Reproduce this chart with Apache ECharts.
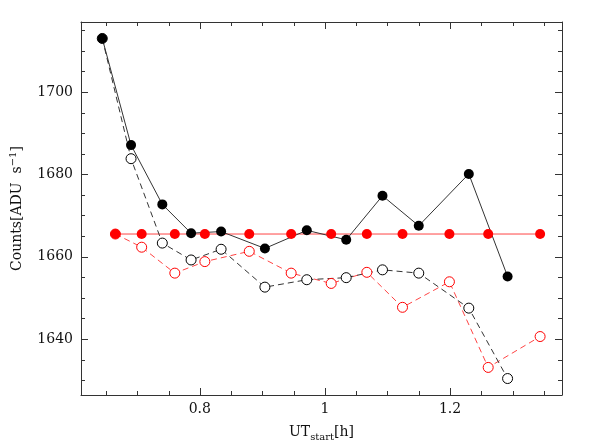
<!DOCTYPE html>
<html>
<head>
<meta charset="utf-8">
<script src="https://cdn.jsdelivr.net/npm/echarts@6/dist/echarts.min.js"></script>
</head>
<body style="margin:0">
<div id="chart" style="width:598px;height:447px"></div>
<script>
// data
const xBlack = [0.644, 0.690, 0.740, 0.786, 0.834, 0.904, 0.971, 1.034, 1.092, 1.150, 1.230, 1.292];
const blackFilled = [1713.0, 1687.1, 1672.7, 1665.7, 1666.1, 1662.0, 1666.4, 1664.1, 1674.8, 1667.5, 1680.1, 1655.2];
const blackOpen = [1713.0, 1683.8, 1663.3, 1659.2, 1661.8, 1652.6, 1654.4, 1654.9, 1656.8, 1656.0, 1647.5, 1630.4];

const xRed = [0.665, 0.707, 0.760, 0.808, 0.879, 0.946, 1.010, 1.067, 1.124, 1.199, 1.261, 1.344];
const redFilled = [1665.5, 1665.5, 1665.5, 1665.5, 1665.5, 1665.5, 1665.5, 1665.5, 1665.5, 1665.5, 1665.5, 1665.5];
const redOpen = [1665.5, 1662.3, 1656.0, 1658.8, 1661.3, 1656.0, 1653.5, 1656.2, 1647.7, 1653.9, 1633.1, 1640.6];

// ticks
const xMajor = [0.8, 1, 1.2];
const xMinor = [0.65, 0.7, 0.75, 0.85, 0.9, 0.95, 1.05, 1.1, 1.15, 1.25, 1.3, 1.35];
const yMajor = [1640, 1660, 1680, 1700];
const yMinor = [1630, 1635, 1645, 1650, 1655, 1665, 1670, 1675, 1685, 1690, 1695, 1705, 1710, 1715];

const X_MIN = 0.61, X_MAX = 1.379;
const Y_MIN = 1626.4, Y_MAX = 1717;

const font = 'DejaVu Serif';
const frameColor = '#333';

function pairs(xs, ys) {
  return xs.map((x, i) => [x, ys[i]]);
}

// axis ticks don't show up here, so the inward ticks on all 4 sides
// are drawn by a custom series placed through the axis scales
function tickSeries(values, dim, len) {
  return {
    type: 'custom', silent: true, clip: false, z: 1,
    data: values.map(v => dim === 'x' ? [v, Y_MIN] : [X_MIN, v]),
    renderItem: (params, api) => {
      const cs = params.coordSys;
      const p = api.coord([api.value(0), api.value(1)]);
      const st = { stroke: frameColor, lineWidth: 1 };
      if (dim === 'x') {
        const x = Math.round(p[0]) + 0.5;
        const yb = cs.y + cs.height, yt = cs.y;
        return { type: 'group', children: [
          { type: 'line', shape: { x1: x, y1: yb, x2: x, y2: yb - len }, style: st },
          { type: 'line', shape: { x1: x, y1: yt, x2: x, y2: yt + len }, style: st }
        ] };
      }
      const y = Math.round(p[1]) + 0.5;
      const xl = cs.x, xr = cs.x + cs.width;
      return { type: 'group', children: [
        { type: 'line', shape: { x1: xl, y1: y, x2: xl + len, y2: y }, style: st },
        { type: 'line', shape: { x1: xr, y1: y, x2: xr - len, y2: y }, style: st }
      ] };
    }
  };
}

function xAxis(pos, labels) {
  return {
    type: 'value', position: pos, min: X_MIN, max: X_MAX,
    splitLine: { show: false },
    axisLine: { show: true, onZero: false, lineStyle: { color: frameColor } },
    axisTick: { show: false },
    axisLabel: labels
      ? { customValues: xMajor, margin: 7, color: '#111', fontFamily: font, fontSize: 14, formatter: v => String(v) }
      : { show: false }
  };
}
function yAxis(pos, labels) {
  return {
    type: 'value', position: pos, min: Y_MIN, max: Y_MAX,
    splitLine: { show: false },
    axisLine: { show: true, onZero: false, lineStyle: { color: frameColor } },
    axisTick: { show: false },
    axisLabel: labels
      ? { customValues: yMajor, margin: 8, color: '#111', fontFamily: font, fontSize: 14, formatter: v => String(v) }
      : { show: false }
  };
}

let xMain = xAxis('bottom', true);
Object.assign(xMain, {
  name: 'UT{sub|start}[h]', nameLocation: 'middle', nameGap: 28,
  nameTextStyle: { color: '#111', fontFamily: font, fontSize: 14,
    rich: { sub: { fontFamily: font, fontSize: 10, padding: [9, 0, 0, 0] } } }
});
let yMain = yAxis('left', true);
Object.assign(yMain, {
  name: 'Counts[ADU  s{sup|−1}]', nameLocation: 'middle', nameRotate: 90, nameGap: 55,
  nameTextStyle: { color: '#111', fontFamily: font, fontSize: 14,
    rich: { sup: { fontFamily: font, fontSize: 10, padding: [0, 0, 8, 0] } } }
});

const openSym = c => ({ color: '#fff', borderColor: c, borderWidth: 1 });

let option = {
  animation: false,
  grid: { left: 72, right: 36, top: 22, bottom: 50 },
  xAxis: [xMain, xAxis('top', false)],
  yAxis: [yMain, yAxis('right', false)],
  series: [
    tickSeries(xMajor, 'x', 7),
    tickSeries(xMinor, 'x', 4),
    tickSeries(yMajor, 'y', 7),
    tickSeries(yMinor, 'y', 4),
    { type: 'line', data: pairs(xRed, redOpen), symbol: 'circle', symbolSize: 10,
      itemStyle: openSym('#f00'), lineStyle: { color: '#f44', width: 1, type: [6, 4] } },
    { type: 'line', data: pairs(xRed, redFilled), symbol: 'circle', symbolSize: 10,
      itemStyle: { color: '#f00' }, lineStyle: { color: '#f44', width: 1 } },
    { type: 'line', data: pairs(xBlack, blackOpen), symbol: 'circle', symbolSize: 10,
      itemStyle: openSym('#000'), lineStyle: { color: '#333', width: 1, type: [6, 4] } },
    { type: 'line', data: pairs(xBlack, blackFilled), symbol: 'circle', symbolSize: 10,
      itemStyle: { color: '#000' }, lineStyle: { color: '#333', width: 1 } }
  ]
};

let myChart = echarts.init(document.getElementById('chart'));
myChart.setOption(option);
</script>
</body>
</html>
